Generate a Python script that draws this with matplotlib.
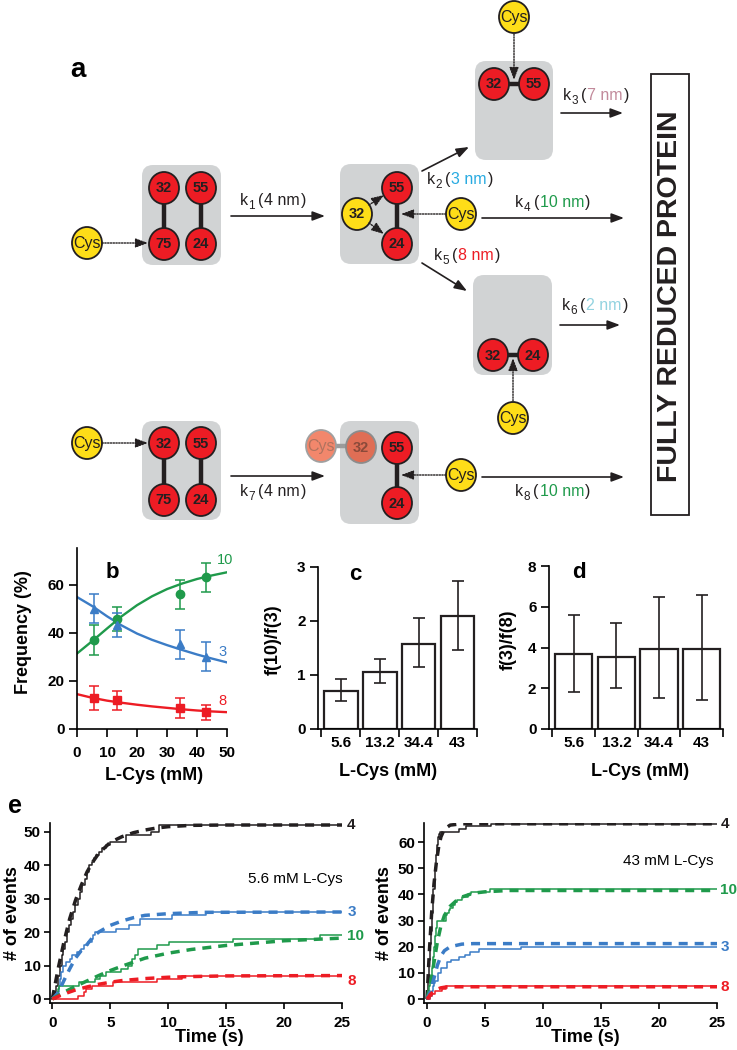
import numpy as np
import matplotlib
matplotlib.use("Agg")
import matplotlib.pyplot as plt
from matplotlib import font_manager
from matplotlib.patches import FancyBboxPatch, Ellipse, Rectangle

_names = {f.name for f in font_manager.fontManager.ttflist}
NARROW = "Liberation Sans Narrow" if "Liberation Sans Narrow" in _names else "Liberation Sans"
plt.rcParams["font.family"] = ["Liberation Sans", "DejaVu Sans"]
plt.rcParams["font.weight"] = "bold"
plt.rcParams["axes.linewidth"] = 1.2

# ======================= DATA =======================
# panel a: rate constants and their step sizes
rate_index = ["1", "2", "3", "4", "5", "6", "7", "8"]
rate_nm = ["4 nm", "3 nm", "7 nm", "10 nm", "8 nm", "2 nm", "4 nm", "10 nm"]
rate_color = ["#231f20", "#27aae1", "#c28a9b", "#1f9a4b", "#ed1c24", "#93d3e0", "#231f20", "#1f9a4b"]
side_label = "FULLY REDUCED PROTEIN"

# panel b: frequency vs L-Cys
cys_mM = [5.6, 13.2, 34.4, 43]
freq_10 = [37.0, 45.9, 56.0, 63.2]
freq_10_err = [6.1, 5.0, 6.0, 6.0]
freq_3 = [50.1, 43.4, 35.2, 30.1]
freq_3_err = [6.0, 5.0, 6.0, 6.0]
freq_8 = [12.8, 11.9, 8.7, 6.9]
freq_8_err = [5.0, 4.0, 4.0, 3.0]
fit_x = [0, 5, 10, 15, 20, 25, 30, 35, 40, 45, 50]
fit_10 = [31.4, 36.5, 41.8, 47.0, 51.5, 55.2, 58.2, 60.5, 62.4, 63.9, 65.2]
fit_3 = [54.9, 51.2, 46.9, 43.0, 39.7, 37.1, 34.9, 32.9, 31.0, 29.3, 27.7]
fit_8 = [14.5, 13.0, 11.8, 10.9, 10.1, 9.4, 8.8, 8.2, 7.7, 7.3, 7.0]

# panels c, d: ratios
cys_labels = ["5.6", "13.2", "34.4", "43"]
ratio_10_3 = [0.71, 1.05, 1.58, 2.09]
ratio_10_3_lo = [0.51, 0.85, 1.14, 1.47]
ratio_10_3_hi = [0.93, 1.29, 2.05, 2.74]
ratio_3_8 = [3.66, 3.55, 3.95, 3.95]
ratio_3_8_lo = [1.8, 2.0, 1.5, 1.4]
ratio_3_8_hi = [5.6, 5.2, 6.5, 6.6]

# panel e left (5.6 mM): cumulative events (step curves) and fits (dashed)
L4_t = [0, 0.2, 0.35, 0.5, 0.65, 0.8, 0.95, 1.1, 1.25, 1.4, 1.6, 1.8, 2.0, 2.2, 2.4,
        2.6, 2.8, 3.0, 3.2, 3.4, 3.6, 3.8, 4.0, 4.25, 4.6, 5.0, 6.4, 8.5, 9.2]
L4_n = [0, 2, 4, 7, 10, 13, 15, 17, 20, 22, 24, 26, 28, 30, 32,
        34, 36, 38, 40, 41, 42, 43, 44, 45, 46, 47, 49, 50, 52]
L4_fit_t = [0, 0.5, 1, 1.5, 2, 2.5, 3, 3.5, 4, 5, 6, 7, 8, 9, 10, 12, 15, 25]
L4_fit_n = [0, 9, 17, 24, 29.5, 34, 38, 41, 43.5, 46.8, 48.5, 49.7, 50.5, 51.1, 51.5, 51.9, 52, 52]
L3_t = [0, 0.2, 0.4, 0.55, 0.65, 0.75, 0.95, 1.15, 1.5, 1.7, 2.1, 2.5, 2.7, 3.1, 3.4,
        3.55, 3.7, 5.5, 6.6, 7.6, 10.3, 13.3]
L3_n = [0, 1, 2, 4, 6, 8, 10, 11, 12, 13, 14, 15, 16, 17, 18,
        19, 20, 21, 22, 24, 25, 26]
L3_fit_t = [0, 0.5, 1, 1.5, 2, 2.5, 3, 3.5, 4, 5, 6, 7, 8, 10, 13, 25]
L3_fit_n = [0, 1.8, 5.5, 9, 12.2, 14.5, 16.3, 18.5, 20, 22, 23.3, 24.3, 25, 25.5, 25.9, 26]
L10_t = [0, 0.3, 0.45, 0.6, 2.3, 3.7, 4.1, 4.6, 5.9, 6.5, 6.9, 7.1, 7.4, 9.0, 10.1, 15.6, 23.1]
L10_n = [0, 1, 3, 4, 5, 6, 7, 8, 9, 10, 12, 13, 15, 16, 17, 18, 19]
L10_fit_t = [0, 1, 2, 3, 4, 5, 6, 7, 8, 10, 12, 15, 20, 25]
L10_fit_n = [0, 2, 3.8, 5.4, 7, 8.5, 9.8, 11, 12.2, 13.7, 14.8, 16, 17.4, 18.2]
L8_t = [0, 2.2, 2.7, 2.9, 3.4, 5.2, 9.0, 11.2]
L8_n = [0, 1, 2, 3, 4, 5, 6, 7]
L8_fit_t = [0, 1, 2, 3, 4, 5, 6, 8, 10, 12, 15, 25]
L8_fit_n = [0, 1.5, 2.7, 3.6, 4.4, 5, 5.5, 6.1, 6.5, 6.7, 6.9, 7]

# panel e right (43 mM)
R4_t = [0, 0.05, 0.1, 0.2, 0.3, 0.37, 0.45, 0.55, 0.66, 0.75, 0.85, 0.95, 1.05, 1.15, 2.8, 3.4, 5.5]
R4_n = [0, 3, 8, 15, 21, 26, 33, 42, 50, 55, 59, 62, 63, 64, 65, 66, 67]
R4_fit_t = [0, 0.2, 0.4, 0.6, 0.8, 1.0, 1.2, 1.5, 2, 3, 25]
R4_fit_n = [0, 18, 33, 44, 52, 58, 62, 65, 66.5, 67, 67]
R10_t = [0, 0.1, 0.2, 0.3, 0.4, 0.5, 0.6, 0.7, 0.8, 0.9, 1.6, 1.7, 1.9, 2.0, 2.2, 2.4,
         2.6, 3.0, 3.5, 3.8, 5.4]
R10_n = [0, 2, 5, 8, 12, 16, 20, 24, 27, 30, 32, 33, 34, 35, 36, 37,
         38, 39, 40, 41, 42]
R10_fit_t = [0, 0.3, 0.6, 0.9, 1.2, 1.5, 2, 2.5, 3, 4, 5, 7, 25]
R10_fit_n = [0, 6, 14, 22, 28, 32, 35.5, 37.5, 39, 40.5, 41, 41.5, 41.5]
R3_t = [0, 0.25, 0.4, 0.5, 0.6, 0.7, 0.95, 1.2, 1.7, 2.1, 2.8, 3.25, 3.7, 4.5, 8.1]
R3_n = [0, 1, 3, 5, 6, 7, 10, 12, 14, 15, 16, 17, 18, 19, 20]
R3_fit_t = [0, 0.3, 0.6, 0.9, 1.2, 1.5, 2, 3, 4, 25]
R3_fit_n = [0, 3, 8, 13, 16.5, 18.5, 20, 21, 21.2, 21.2]
R8_t = [0, 0.25, 0.45, 0.7, 1.3, 1.6]
R8_n = [0, 1, 2, 3, 4, 5]
R8_fit_t = [0, 0.3, 0.6, 0.9, 1.2, 1.6, 2, 25]
R8_fit_n = [0, 1.8, 3, 3.8, 4.3, 4.6, 4.7, 4.7]

# ======================= FIGURE =======================
W, H = 737, 1050
fig = plt.figure(figsize=(W / 100, H / 100), dpi=100)
renderer = fig.canvas.get_renderer()

INK = "#231f20"
GREY = "#d1d3d4"
RED = "#ed1c24"
YEL = "#fedd18"
GREEN = "#1f9a4b"
BLUE = "#3b7cc6"


def add_ax(l, r, t, b):
    a = fig.add_axes([l / W, 1 - b / H, (r - l) / W, (b - t) / H])
    a.patch.set_visible(False)
    return a


def ftext(x, y, s, **kw):
    return fig.text(x / W, 1 - y / H, s, **kw)


# ---------------- panel a (diagram) ----------------
ax0 = fig.add_axes([0, 0, 1, 1])
ax0.set_xlim(0, W)
ax0.set_ylim(H, 0)
ax0.axis("off")


def box(x0, y0, x1, y1):
    ax0.add_patch(FancyBboxPatch((x0, y0), x1 - x0, y1 - y0,
                                 boxstyle="round,pad=0,rounding_size=11",
                                 fc=GREY, ec="none", zorder=1))


def node(x, y, s, fc=RED, ec=INK, tc=INK, bold=True, size=10.5):
    ax0.add_patch(Ellipse((x, y), 30, 32, fc=fc, ec=ec, lw=1.3, zorder=3))
    ax0.text(x, y + 0.5, s, ha="center", va="center", fontsize=size,
             fontweight="bold" if bold else "normal", family=NARROW, color=tc, zorder=4)


def cys(x, y, **kw):
    node(x, y, "Cys", fc=YEL, bold=False, size=11.5, **kw)


def bar(x1, y1, x2, y2, color=INK):
    ax0.plot([x1, x2], [y1, y2], color=color, lw=3.2, solid_capstyle="butt", zorder=2)


def arrow(x1, y1, x2, y2, dotted=False):
    ax0.annotate("", xy=(x2, y2), xytext=(x1, y1),
                 arrowprops=dict(arrowstyle="-|>,head_length=0.75,head_width=0.28",
                                 lw=1.0 if dotted else 1.2, color=INK,
                                 linestyle=(0, (1, 1)) if dotted else "-",
                                 shrinkA=0, shrinkB=0, mutation_scale=10))


def rate_text(xc, yb, i):
    parts = [("k", INK, 11.5, 0, 0.5), (rate_index[i], INK, 8.5, 4, 3.0),
             ("(", INK, 11.5, 0, 1.0), (rate_nm[i], rate_color[i], 11.5, 0, 1.0),
             (")", INK, 11.5, 0, 0)]
    texts, widths = [], []
    for s, c, size, dy, gap in parts:
        t = ax0.text(0, yb + dy, s, color=c, fontsize=size, family=NARROW,
                     fontweight="normal", ha="left", va="baseline")
        texts.append(t)
        widths.append(t.get_window_extent(renderer).width + gap)
    x = xc - sum(widths) / 2
    for t, w in zip(texts, widths):
        t.set_x(x)
        x += w


ax0.text(78, 70, "a", fontsize=20, fontweight="bold", ha="center", va="center")

# top state (32-55 bond)
box(475, 61, 553, 160)
bar(494, 84, 534, 84)
node(494, 84, "32")
node(534, 84, "55")
cys(514, 17)
arrow(514, 34, 514, 80, dotted=True)
rate_text(596, 100, 2)
arrow(561, 113, 623, 113)

# first starting state
box(142, 165, 221, 265)
bar(164, 188, 164, 244)
bar(201, 188, 201, 244)
node(164, 188, "32")
node(201, 188, "55")
node(164, 244, "75")
node(201, 244, "24")
cys(87, 243)
arrow(102, 243, 148, 243, dotted=True)
rate_text(273, 205, 0)
arrow(231, 216, 325, 216)

# intermediate
box(340, 164, 419, 264)
bar(397, 188, 397, 244)
node(397, 188, "55")
node(397, 244, "24")
node(357, 214, "32", fc=YEL)
arrow(369, 205, 384, 195, dotted=True)
arrow(369, 223, 384, 234, dotted=True)
cys(461, 214)
arrow(446, 214, 401, 214, dotted=True)
rate_text(460, 184, 1)
arrow(422, 171, 469, 147)
rate_text(553, 207, 3)
arrow(482, 218, 624, 218)
rate_text(467, 260, 4)
arrow(422, 263, 467, 291)

# bottom-right state (32-24 bond)
box(473, 275, 552, 375)
bar(493, 355, 533, 355)
node(493, 355, "32")
node(533, 355, "24")
cys(513, 418)
arrow(513, 401, 513, 358, dotted=True)
rate_text(595, 310, 5)
arrow(560, 325, 620, 325)

# second pathway
box(142, 421, 221, 520)
bar(164, 443, 164, 500)
bar(201, 443, 201, 500)
node(164, 443, "32")
node(201, 443, "55")
node(164, 500, "75")
node(201, 500, "24")
cys(87, 443)
arrow(102, 443, 148, 443, dotted=True)
rate_text(273, 496, 6)
arrow(231, 476, 325, 476)

box(340, 421, 419, 524)
bar(321, 446, 361, 446, color="#9b9b9b")
node(321, 446, "Cys", fc="#f2876c", ec="#a0a0a0", tc="#b0735f", bold=False, size=11.5)
node(361, 447, "32", fc="#df6e55", ec="#8c8c8c", tc="#8a4a3a")
bar(397, 448, 397, 503)
node(397, 448, "55")
node(397, 503, "24")
cys(461, 475)
arrow(446, 475, 401, 475, dotted=True)
rate_text(553, 496, 7)
arrow(482, 477, 624, 477)

ax0.add_patch(Rectangle((651, 74), 38, 441, fc="white", ec=INK, lw=1.3, zorder=2))
ax0.text(670, 296, side_label, rotation=90, ha="center", va="center",
         fontsize=20.5, fontweight="bold", color=INK, zorder=3)


def style_ax(a, xlen=5, ylen=5, xpad=3.5, ypad=3.5, size=11):
    for s in ("top", "right"):
        a.spines[s].set_visible(False)
    a.tick_params(axis="x", direction="out", length=xlen, width=1.2, pad=xpad, labelsize=size)
    a.tick_params(axis="y", direction="out", length=ylen, width=1.2, pad=ypad, labelsize=size)


# ---------------- panel b ----------------
axb = add_ax(77, 227, 548, 729)
axb.plot(fit_x, fit_10, color=GREEN, lw=1.7, zorder=2)
axb.plot(fit_x, fit_3, color=BLUE, lw=1.7, zorder=2)
axb.plot(fit_x, fit_8, color=RED, lw=1.7, zorder=2)
ekw = dict(ls="none", capsize=3.5, elinewidth=1.1, capthick=1.1, zorder=3)
axb.errorbar(cys_mM, freq_10, yerr=freq_10_err, fmt="o", ms=6, color=GREEN, **ekw)
axb.errorbar(cys_mM, freq_3, yerr=freq_3_err, fmt="^", ms=6, color=BLUE, **ekw)
axb.errorbar(cys_mM, freq_8, yerr=freq_8_err, fmt="s", ms=6, color=RED, **ekw)
axb.set_xlim(0, 50)
axb.set_ylim(0, 75.3)
axb.set_xticks([0, 10, 20, 30, 40, 50])
axb.set_yticks([0, 20, 40, 60])
style_ax(axb, xlen=5.5, ylen=5.5, xpad=7, ypad=3.5)
axb.text(46.7, 70.3, "10", color=GREEN, fontsize=10.5, fontweight="normal", ha="left", va="center")
axb.text(47.0, 32.0, "3", color=BLUE, fontsize=10.5, fontweight="normal", ha="left", va="center")
axb.text(47.0, 11.8, "8", color=RED, fontsize=10.5, fontweight="normal", ha="left", va="center")
ftext(112, 573, "b", fontsize=16, fontweight="bold", ha="center", va="center")
ftext(24, 632, "Frequency (%)", rotation=90, fontsize=13, ha="center", va="center")
ftext(154, 776, "L-Cys (mM)", fontsize=13, ha="center", va="center")


def bar_panel(a, vals, lo, hi, ymax, yticks):
    xs = np.arange(len(vals))
    v = np.array(vals)
    err = [v - np.array(lo), np.array(hi) - v]
    a.bar(xs, v, width=0.87, color="white", edgecolor=INK, lw=1.6, zorder=2)
    a.errorbar(xs, v, yerr=err, ls="none", color=INK, elinewidth=1.2, capsize=4,
               capthick=1.2, zorder=3)
    a.set_xlim(-0.58, 3.5)
    a.set_ylim(0, ymax)
    a.set_yticks(yticks)
    a.set_xticks(xs)
    a.set_xticklabels(cys_labels)
    a.set_xticks(np.arange(-0.5, 3.6, 1.0), minor=True)
    style_ax(a, xlen=0, ylen=5.5, xpad=5, ypad=3.5, size=11)
    a.tick_params(axis="x", which="minor", direction="out", length=6, width=1.2)


# ---------------- panel c ----------------
axc = add_ax(318, 477, 567, 729)
bar_panel(axc, ratio_10_3, ratio_10_3_lo, ratio_10_3_hi, 3, [0, 1, 2, 3])
ftext(355, 575, "c", fontsize=16, fontweight="bold", ha="center", va="center")
ftext(273, 640, "f(10)/f(3)", rotation=90, fontsize=13, ha="center", va="center")
ftext(388, 772, "L-Cys (mM)", fontsize=13, ha="center", va="center")

# ---------------- panel d ----------------
axd = add_ax(549, 723, 566, 729)
bar_panel(axd, ratio_3_8, ratio_3_8_lo, ratio_3_8_hi, 8, [0, 2, 4, 6, 8])
ftext(579, 573, "d", fontsize=16, fontweight="bold", ha="center", va="center")
ftext(508, 640, "f(3)/f(8)", rotation=90, fontsize=13, ha="center", va="center")
ftext(640, 772, "L-Cys (mM)", fontsize=13, ha="center", va="center")

# ---------------- panel e ----------------
DASH = (0, (2.6, 2.0))


def series(a, t, n, ft, fn, color):
    tt = list(t) + [25]
    nn = list(n) + [n[-1]]
    a.step(tt, nn, where="post", color=color, lw=1.1, zorder=2)
    a.plot(ft, fn, color=color, lw=2.5, ls=DASH, zorder=3)


axe1 = add_ax(50, 342, 823, 1003)
series(axe1, L4_t, L4_n, L4_fit_t, L4_fit_n, INK)
series(axe1, L3_t, L3_n, L3_fit_t, L3_fit_n, BLUE)
series(axe1, L10_t, L10_n, L10_fit_t, L10_fit_n, GREEN)
series(axe1, L8_t, L8_n, L8_fit_t, L8_fit_n, RED)
axe1.set_xlim(-0.2, 25)
axe1.set_ylim(-1.2, 52.6)
axe1.set_xticks([0, 5, 10, 15, 20, 25])
axe1.set_yticks([0, 10, 20, 30, 40, 50])
style_ax(axe1, xlen=4, ylen=4, xpad=5.5, ypad=2.5, size=11)
for lab, yy, c in (("4", 52, INK), ("3", 26, BLUE), ("10", 18.7, GREEN), ("8", 5.3, RED)):
    axe1.text(25.45, yy, lab, color=c, fontsize=11, fontweight="bold", ha="left",
              va="center", clip_on=False)
axe1.text(0.84, 0.69, "5.6 mM L-Cys", transform=axe1.transAxes, fontsize=11,
          fontweight="normal", ha="center", va="center")
ftext(15, 806, "e", fontsize=18, fontweight="bold", ha="center", va="center")
ftext(13, 913, "# of events", rotation=90, fontsize=13, ha="center", va="center")
ftext(209, 1037, "Time (s)", fontsize=13, ha="center", va="center")

axe2 = add_ax(424, 717, 823, 1003)
series(axe2, R4_t, R4_n, R4_fit_t, R4_fit_n, INK)
series(axe2, R10_t, R10_n, R10_fit_t, R10_fit_n, GREEN)
series(axe2, R3_t, R3_n, R3_fit_t, R3_fit_n, BLUE)
series(axe2, R8_t, R8_n, R8_fit_t, R8_fit_n, RED)
axe2.set_xlim(-0.26, 25)
axe2.set_ylim(-1.5, 67.3)
axe2.set_xticks([0, 5, 10, 15, 20, 25])
axe2.set_yticks([0, 10, 20, 30, 40, 50, 60])
style_ax(axe2, xlen=4, ylen=4, xpad=5.5, ypad=2.5, size=11)
for lab, yy, c in (("4", 67, INK), ("10", 41.6, GREEN), ("3", 19.9, BLUE), ("8", 4.7, RED)):
    axe2.text(25.3, yy, lab, color=c, fontsize=11, fontweight="bold", ha="left",
              va="center", clip_on=False)
axe2.text(0.835, 0.79, "43 mM L-Cys", transform=axe2.transAxes, fontsize=11,
          fontweight="normal", ha="center", va="center")
ftext(385, 913, "# of events", rotation=90, fontsize=13, ha="center", va="center")
ftext(585, 1037, "Time (s)", fontsize=13, ha="center", va="center")

fig.savefig("out.png", dpi=100)
